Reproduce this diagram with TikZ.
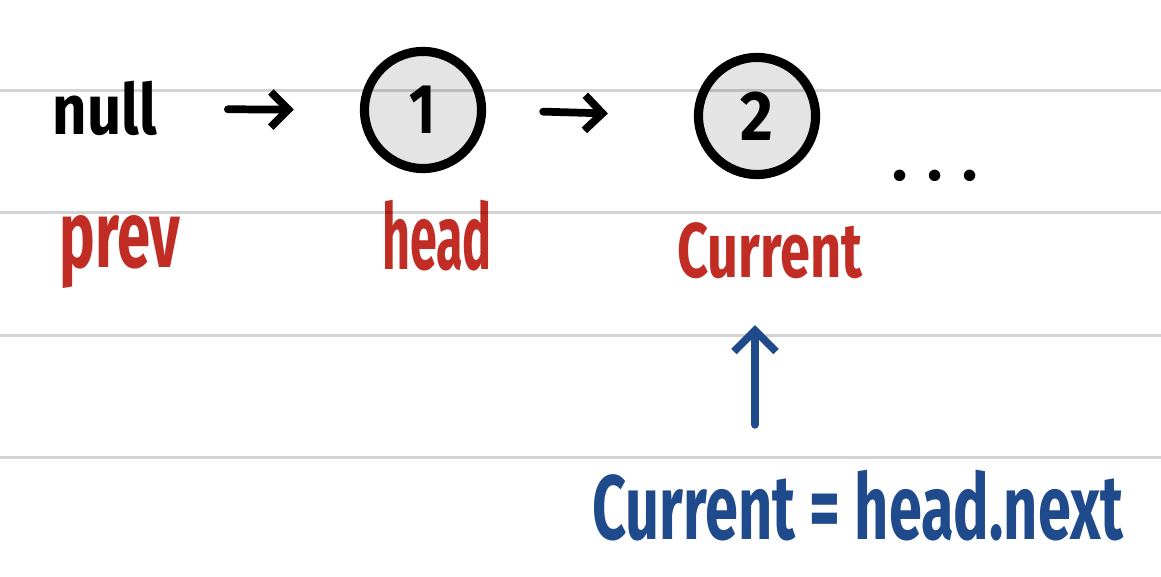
\documentclass[tikz,border=0pt]{standalone}
\usepackage{fontspec}
\setmainfont{Fira Sans}
\usetikzlibrary{arrows.meta}
\definecolor{hwred}{HTML}{C12D24}
\definecolor{hwblue}{HTML}{1F4A8C}
\definecolor{nodefill}{HTML}{E4E4E4}
\newcommand{\hw}[2]{\scalebox{#1}[1]{#2}}
\tikzset{
  rule/.style={line width=0.85pt, black, opacity=0.17},
  listnode/.style={circle, draw=black, fill=nodefill, line width=2.6pt, minimum size=1.17cm, inner sep=0pt, font=\bfseries\fontsize{20}{22}\selectfont},
  txt/.style={inner sep=0pt, anchor=base, font=\bfseries},
  link/.style={line width=2.2pt, line cap=round, line join=round, -{Straight Barb[length=5pt,width=10pt,line width=2.2pt]}},
  uparrow/.style={hwblue, line width=2.2pt, line cap=round, line join=round, -{Straight Barb[length=6pt,width=12pt,line width=2.2pt]}},
}
\begin{document}
\begin{tikzpicture}[x=0.01cm,y=-0.01cm]
\useasboundingbox (0,0) rectangle (1161,577);
\fill[white] (0,0) rectangle (1161,577);
% nodes
\node[txt, font=\bfseries\fontsize{20}{24}\selectfont] (null) at (105,135) {\hw{0.85}{null}};
\node[listnode] (c1) at (423,110) {\hw{0.8}{1}};
\node[listnode] (c2) at (757,116) {\hw{0.9}{2}};
\node[inner sep=0pt, font=\bfseries\fontsize{18}{20}\selectfont] (dots) at (935,176) {.\hspace{0.2cm}.\hspace{0.2cm}.};
\node[txt, hwred, font=\bfseries\fontsize{27}{30}\selectfont] (prev) at (120,268) {\hw{0.63}{prev}};
\node[txt, hwred, font=\bfseries\fontsize{26}{30}\selectfont] (head) at (437,270) {\hw{0.53}{head}};
\node[txt, hwred, font=\bfseries\fontsize{22}{30}\selectfont] (cur) at (770,278) {\hw{0.7}{Current}};
\node[txt, hwblue, font=\bfseries\fontsize{26}{30}\selectfont] (eq) at (858,540) {\hw{0.65}{Current = head.next}};
% ruled lines
\foreach \yy in {91,213,336,458} \draw[rule] (0,\yy) -- (1161,\yy);
% connectors
\draw[link, shorten <=0.7cm, shorten >=0.66cm] (null.east) -- (c1.west);
\draw[link, shorten <=0.57cm, shorten >=0.86cm] (c1.east) -- (c2.west);
\draw[uparrow] ([xshift=-1.03cm,yshift=0.45cm]eq.north) -- ([xshift=-0.15cm,yshift=-0.45cm]cur.south);
\end{tikzpicture}
\end{document}
